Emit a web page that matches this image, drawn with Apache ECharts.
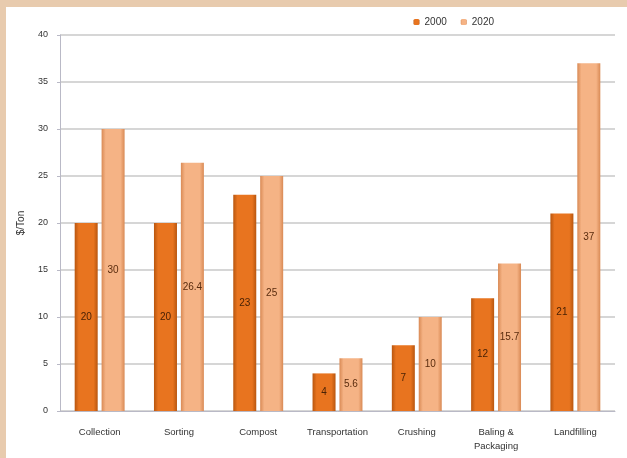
<!DOCTYPE html>
<html>
<head>
<meta charset="utf-8">
<script src="https://cdn.jsdelivr.net/npm/echarts@6/dist/echarts.min.js"></script>
<style>
html,body{margin:0;padding:0;background:#e8cbae;}
#frame{position:absolute;left:6px;top:7px;right:0;bottom:0;background:#fff;}
#c{position:absolute;left:0;top:0;width:627px;height:458px;}
</style>
</head>
<body>
<div id="frame"></div>
<div id="c"></div>
<script>
var categories = ['Collection','Sorting','Compost','Transportation','Crushing','Baling &\nPackaging','Landfilling'];
var values2000 = [20, 20, 23, 4, 7, 12, 21];
var values2020 = [30, 26.4, 25, 5.6, 10, 15.7, 37];
var labels2000 = ['20','20','23','4','7','12','21'];
var labels2020 = ['30','26.4','25','5.6','10','15.7','37'];
var seriesNames = ['2000','2020'];

var chart = echarts.init(document.getElementById('c'), null, {renderer:'canvas'});
function grad(edge, mid){
  return new echarts.graphic.LinearGradient(0,0,1,0,[
    {offset:0,color:edge},{offset:0.18,color:mid},{offset:0.82,color:mid},{offset:1,color:edge}
  ]);
}
chart.setOption({
  backgroundColor:'transparent',
  animation:false,
  textStyle:{fontFamily:'Liberation Sans, Arial, sans-serif'},
  legend:{
    right:128, top:12, itemWidth:6, itemHeight:6, itemGap:14,
    textStyle:{fontSize:10,color:'#333'},
    data:seriesNames
  },
  grid:{left:60,right:12,top:35,bottom:47},
  xAxis:{
    type:'category', data:categories,
    axisLine:{lineStyle:{color:'#b9b9c6'}},
    axisTick:{show:false},
    axisLabel:{fontSize:9.5,color:'#333',margin:14,lineHeight:14,interval:0}
  },
  yAxis:{
    type:'value', min:0, max:40, interval:5,
    name:'$/Ton', nameLocation:'middle', nameGap:34, nameRotate:90,
    nameTextStyle:{fontSize:10,color:'#333'},
    axisLine:{show:true,lineStyle:{color:'#b9b9c6'}},
    axisTick:{show:true,length:3,lineStyle:{color:'#b9b9c6'}},
    axisLabel:{fontSize:9,color:'#333',margin:12},
    splitLine:{lineStyle:{color:'#c8c8c8',width:1.5}}
  },
  series:[
    {
      name:seriesNames[0], type:'bar', data:values2000, barWidth:23, barGap:'17%',
      itemStyle:{color:grad('#b8560f','#e8741f')},
      label:{show:true,position:'inside',fontSize:10,color:'#4a2205',
        formatter:function(p){return labels2000[p.dataIndex];}}
    },
    {
      name:seriesNames[1], type:'bar', data:values2020, barWidth:23,
      itemStyle:{color:grad('#d98a55','#f5b385')},
      label:{show:true,position:'inside',fontSize:10,color:'#5a2c0e',
        formatter:function(p){return labels2020[p.dataIndex];}}
    }
  ]
});
</script>
</body>
</html>
